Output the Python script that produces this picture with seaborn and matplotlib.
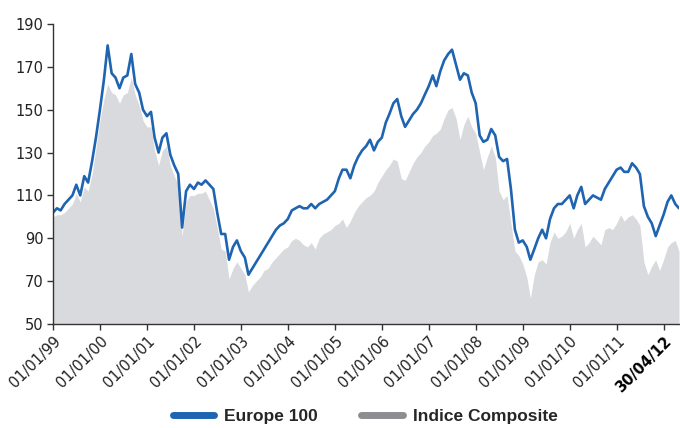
import pandas as pd
import numpy as np
import matplotlib.pyplot as plt
import seaborn as sb
from matplotlib.lines import Line2D

# monthly observations, last point is the 30/04/12 close
dates = list(pd.date_range('1999-01-01', '2012-04-01', freq='MS')) + [pd.Timestamp('2012-04-30')]

europe_100 = [
    102, 104, 103, 106, 108, 110, 115, 110, 119, 116, 126, 137,   # 1999
    150, 164, 180, 167, 165, 160, 165, 166, 176, 162, 158, 150,   # 2000
    147, 149, 137, 130, 137, 139, 129, 124, 120, 95, 112, 115,    # 2001
    113, 116, 115, 117, 115, 113, 102, 92, 92, 80, 86, 89,        # 2002
    84, 81, 73, 76, 79, 82, 85, 88, 91, 94, 96, 97,               # 2003
    99, 103, 104, 105, 104, 104, 106, 104, 106, 107, 108, 110,    # 2004
    112, 118, 122, 122, 118, 124, 128, 131, 133, 136, 131, 135,   # 2005
    137, 144, 148, 153, 155, 147, 142, 145, 148, 150, 153, 157,   # 2006
    161, 166, 161, 168, 173, 176, 178, 171, 164, 167, 166, 158,   # 2007
    153, 138, 135, 136, 141, 138, 128, 126, 127, 113, 94, 88,     # 2008
    89, 86, 80, 85, 90, 94, 90, 99, 104, 106, 106, 108,           # 2009
    110, 104, 110, 114, 106, 108, 110, 109, 108, 113, 116, 119,   # 2010
    122, 123, 121, 121, 125, 123, 120, 105, 100, 97, 91, 96,      # 2011
    101, 107, 110, 106, 104,                                      # 2012
]

indice_composite = [
    100, 101, 101, 102, 104, 106, 111, 107, 114, 112, 120, 132,
    145, 155, 162, 158, 157, 153, 157, 158, 165, 157, 152, 145,
    142, 142, 131, 124, 131, 133, 124, 119, 115, 91, 107, 110,
    110, 111, 111, 112, 108, 104, 95, 85, 84, 71, 76, 79,
    76, 73, 65, 68, 70, 72, 75, 76, 79, 81, 83, 85,
    86, 89, 90, 89, 87, 86, 88, 85, 90, 92, 93, 94,
    96, 97, 99, 95, 98, 102, 105, 107, 109, 110, 112, 116,
    119, 122, 124, 127, 126, 118, 117, 121, 125, 128, 130, 133,
    135, 138, 139, 141, 146, 150, 151, 146, 136, 143, 147, 142,
    139, 130, 122, 128, 133, 128, 112, 108, 110, 97, 84, 82,
    78, 72, 62, 73, 79, 80, 78, 88, 93, 90, 91, 93,
    97, 90, 94, 97, 86, 88, 91, 89, 87, 94, 95, 94,
    97, 101, 98, 100, 101, 99, 96, 79, 73, 77, 80, 75,
    80, 86, 88, 89, 84,
]

tick_dates = list(pd.date_range('1999-01-01', '2012-01-01', freq='YS'))
tick_labels = ['01/01/99', '01/01/00', '01/01/01', '01/01/02', '01/01/03', '01/01/04',
               '01/01/05', '01/01/06', '01/01/07', '01/01/08', '01/01/09', '01/01/10',
               '01/01/11', '30/04/12']
y_ticks = [50, 70, 90, 110, 130, 150, 170, 190]

df = pd.DataFrame({'Date': dates, 'Europe 100': europe_100, 'Indice Composite': indice_composite})

blue = '#1f64b1'
fill_grey = '#d9dadd'
legend_grey = '#8d8d92'

sb.set_style('ticks')
plt.rcParams['font.family'] = ['DejaVu Sans']

fig = plt.figure(figsize=(6.8, 4.28), dpi=100)
ax = fig.add_axes([53 / 680, 1 - 324 / 428, 626 / 680, 300 / 428])

ax.fill_between(df['Date'], 50, df['Indice Composite'], color=fill_grey, lw=0, zorder=1)
sb.lineplot(data=df, x='Date', y='Europe 100', color=blue, lw=1.9, ax=ax, zorder=2)

ax.set_xlim(df['Date'].iloc[0], df['Date'].iloc[-1])
ax.set_ylim(50, 190)
ax.set_yticks(y_ticks)
ax.set_yticklabels([str(v) for v in y_ticks], fontsize=10.5, color='#222222')
ax.set_xticks(tick_dates)
ax.set_xticklabels(tick_labels, rotation=45, ha='right', rotation_mode='anchor',
                   fontsize=10.5, color='#222222')
ax.get_xticklabels()[-1].set_fontweight('bold')
ax.get_xticklabels()[-1].set_color('black')
ax.set_xlabel('')
ax.set_ylabel('')
ax.tick_params(axis='both', length=4, width=1, color='#333333', pad=3)
for side in ['top', 'right']:
    ax.spines[side].set_visible(False)
for side in ['left', 'bottom']:
    ax.spines[side].set_color('#333333')
    ax.spines[side].set_linewidth(1)

handles = [Line2D([], [], color=blue, lw=5, solid_capstyle='round'),
           Line2D([], [], color=legend_grey, lw=5, solid_capstyle='round')]
fig.legend(handles, ['Europe 100', 'Indice Composite'], loc='center', ncol=2,
           bbox_to_anchor=(0.537, 0.027), frameon=False, handlelength=2.4,
           handletextpad=0.57, columnspacing=2.5, borderpad=0,
           prop={'family': 'Liberation Sans', 'weight': 'bold', 'size': 12.5})

fig.savefig('out.png', dpi=100)
